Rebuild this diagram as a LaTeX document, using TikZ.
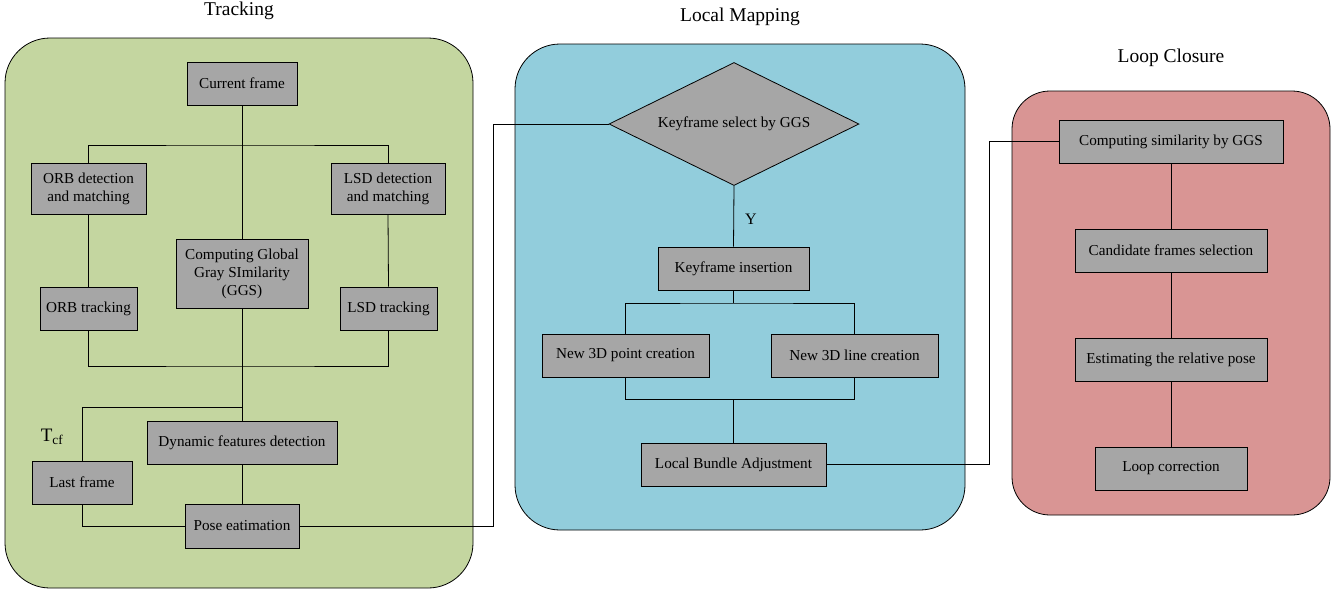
\documentclass[tikz,border=0pt]{standalone}
\usepackage{fontspec}
\setmainfont{Liberation Serif}
\usetikzlibrary{shapes.geometric}
\definecolor{trackg}{HTML}{C4D6A0}
\definecolor{mapb}{HTML}{92CDDC}
\definecolor{loopr}{HTML}{D99594}
\definecolor{boxg}{HTML}{A6A6A6}
\tikzset{
  panel/.style={draw=black, line width=0.8pt, rounded corners=45pt},
  box/.style={draw=black, fill=boxg, line width=0.8pt, inner sep=0pt, align=center,
    font=\fontsize{15.2}{18}\selectfont},
  title/.style={font=\fontsize{19.5}{22}\selectfont},
  conn/.style={draw=black, line width=0.8pt},
}
\begin{document}
\begin{tikzpicture}[x=1pt,y=-1pt]
\useasboundingbox (0,0) rectangle (1340,590);
% panels
\filldraw[panel, fill=trackg] (5,38) rectangle (473,588);
\filldraw[panel, fill=mapb] (515,44) rectangle (965,530);
\filldraw[panel, fill=loopr, rounded corners=38pt] (1012,91) rectangle (1330,515);
\node[title] (ttrack) at (239,11) {Tracking};
\node[title] (tmap) at (740,17) {Local Mapping};
\node[title] (tloop) at (1171,58) {Loop Closure};
% Tracking nodes
\node[box, minimum width=110pt, minimum height=43pt] (cf) at (242,83.5) {Current frame};
\node[box, minimum width=115pt, minimum height=51pt] (orbd) at (88.5,188.5) {ORB detection\\and matching};
\node[box, minimum width=114pt, minimum height=51pt] (lsdd) at (388,188.5) {LSD detection\\and matching};
\node[box, minimum width=132pt, minimum height=69pt] (ggs) at (242,273.5) {Computing Global\\Gray SImilarity\\(GGS)};
\node[box, minimum width=97pt, minimum height=43pt] (orbt) at (88.5,308.5) {ORB tracking};
\node[box, minimum width=97pt, minimum height=43pt] (lsdt) at (388.5,308.5) {LSD tracking};
\node[box, minimum width=190pt, minimum height=43pt] (dyn) at (242,442.5) {Dynamic features detection};
\node[box, minimum width=100pt, minimum height=43pt] (last) at (82,482.5) {Last frame};
\node[box, minimum width=114pt, minimum height=44pt] (pose) at (242,526) {Pose eatimation};
\node[font=\fontsize{19}{21}\selectfont, inner sep=0pt] (tcf) at (52,437) {T\textsubscript{cf}};
\coordinate (j1) at (242,145);
\coordinate (j2) at (242,366);
\coordinate (j3) at (242,407);
\draw[conn] (cf.south) -- (ggs.north);
\draw[conn] (orbd.north) |- (j1) -| (lsdd.north);
\draw[conn] (orbd.south) -- (orbt.north);
\draw[conn] (lsdd.south) -- (lsdt.north);
\draw[conn] (orbt.south) |- (j2) -| (lsdt.south);
\draw[conn] (ggs.south) -- (dyn.north);
\draw[conn] (j3) -| (last.north);
\draw[conn] (dyn.south) -- (pose.north);
\draw[conn] (last.south) |- (pose.west);
% Local mapping
\node[diamond, draw=black, fill=boxg, line width=0.8pt, minimum width=250pt, minimum height=123pt, inner sep=0pt,
  aspect=2] (kfs) at (734,124) {};
\node[font=\fontsize{15.2}{18}\selectfont] (kfslab) at (734,124) {Keyframe select by GGS};
\node[box, minimum width=151pt, minimum height=43pt] (kfi) at (733.5,268.5) {Keyframe insertion};
\node[box, minimum width=167pt, minimum height=43pt] (np) at (625.5,355.5) {New 3D point creation};
\node[box, minimum width=167pt, minimum height=43pt] (nl) at (854.5,355.5) {New 3D line creation};
\node[box, minimum width=185pt, minimum height=43pt] (lba) at (733.5,464.5) {Local Bundle Adjustment};
\node[font=\fontsize{16}{18}\selectfont, inner sep=0pt] (ylab) at (751,219) {Y};
\coordinate (m1) at (733.5,303);
\coordinate (m2) at (733.5,399);
\coordinate (c1) at (493,526);
\coordinate (c2) at (989,464.5);
\draw[conn] (kfs.south) -- (kfi.north);
\draw[conn] (kfi.south) -- (m1);
\draw[conn] (np.north) |- (m1) -| (nl.north);
\draw[conn] (np.south) |- (m2) -| (nl.south);
\draw[conn] (m2) -- (lba.north);
\draw[conn] (pose.east) -- (c1) |- (kfs.west);
% Loop closure
\node[box, minimum width=224pt, minimum height=43pt] (cs) at (1171,141.5) {Computing similarity by GGS};
\node[box, minimum width=192pt, minimum height=43pt] (cand) at (1171,250.5) {Candidate frames selection};
\node[box, minimum width=192pt, minimum height=43pt] (est) at (1171,359.5) {Estimating the relative pose};
\node[box, minimum width=152pt, minimum height=43pt] (lc) at (1171,468.5) {Loop correction};
\draw[conn] (cs.south) -- (cand.north);
\draw[conn] (cand.south) -- (est.north);
\draw[conn] (est.south) -- (lc.north);
\draw[conn] (lba.east) -- (c2) |- (cs.west);
\end{tikzpicture}
\end{document}
